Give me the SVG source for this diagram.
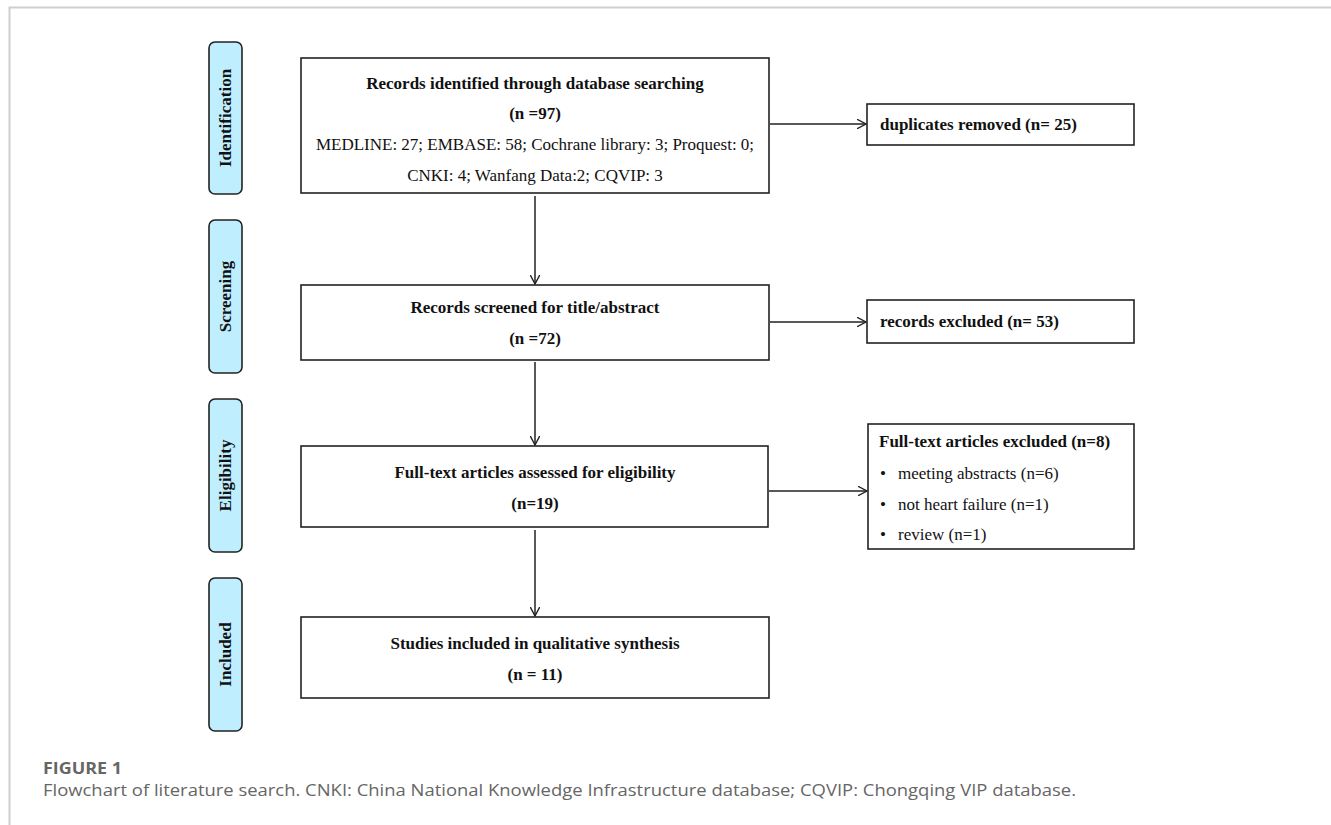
<svg xmlns="http://www.w3.org/2000/svg" width="1331" height="825" viewBox="0 0 1331 825">
<style>
.box{fill:#fff;stroke:#222;stroke-width:1.6}
.bar{fill:#bfeeff;stroke:#222;stroke-width:1.6}
.b{font-family:"Liberation Serif","Times New Roman",serif;font-weight:bold;font-size:17px;fill:#111}
.r{font-family:"Liberation Serif","Times New Roman",serif;font-size:17px;fill:#111}
.c{text-anchor:middle}
.con{stroke:#222;stroke-width:1.5;fill:none}
.cap{font-family:"Open Sans","Lato",sans-serif;fill:#666}
</style>
<defs>
<marker id="ah" viewBox="0 0 10 10" refX="9.5" refY="5" markerWidth="10" markerHeight="10" markerUnits="userSpaceOnUse" orient="auto">
<path d="M0,0 L9.5,5 L0,10" fill="none" stroke="#222" stroke-width="1.4"/>
</marker>
</defs>
<rect width="1331" height="825" fill="#fff"/>
<path d="M9.5,825 V7.5 H1331" fill="none" stroke="#cfcfcf" stroke-width="2"/>

<g id="phase-identification">
<rect class="bar" x="209" y="42" width="33" height="152" rx="6"/>
<text class="b c" transform="translate(231,118) rotate(-90)">Identification</text>
</g>
<g id="phase-screening">
<rect class="bar" x="209" y="220" width="33" height="153" rx="6"/>
<text class="b c" transform="translate(231,296.5) rotate(-90)">Screening</text>
</g>
<g id="phase-eligibility">
<rect class="bar" x="209" y="399" width="33" height="153" rx="6"/>
<text class="b c" transform="translate(231,475.5) rotate(-90)">Eligibility</text>
</g>
<g id="phase-included">
<rect class="bar" x="209" y="578" width="33" height="153" rx="6"/>
<text class="b c" transform="translate(231,654.5) rotate(-90)">Included</text>
</g>

<g id="box-identified">
<rect class="box" x="301" y="58" width="468" height="135"/>
<text class="b c" x="535" y="89">Records identified through database searching</text>
<text class="b c" x="535" y="119">(n =97)</text>
<text class="r c" x="535" y="150">MEDLINE: 27; EMBASE: 58; Cochrane library: 3; Proquest: 0;</text>
<text class="r c" x="535" y="181">CNKI: 4; Wanfang Data:2; CQVIP: 3</text>
</g>
<g id="box-duplicates">
<rect class="box" x="867" y="104" width="267" height="41"/>
<text class="b" x="880" y="129.5">duplicates removed (n= 25)</text>
</g>
<g id="box-screened">
<rect class="box" x="301" y="285" width="468" height="75"/>
<text class="b c" x="535" y="313">Records screened for title/abstract</text>
<text class="b c" x="535" y="344">(n =72)</text>
</g>
<g id="box-records-excluded">
<rect class="box" x="867" y="300" width="267" height="43"/>
<text class="b" x="880" y="327">records excluded (n= 53)</text>
</g>
<g id="box-fulltext">
<rect class="box" x="301" y="446" width="467" height="81"/>
<text class="b c" x="535" y="478">Full-text articles assessed for eligibility</text>
<text class="b c" x="535" y="509">(n=19)</text>
</g>
<g id="box-fulltext-excluded">
<rect class="box" x="868" y="424" width="266" height="125"/>
<text class="b" x="879" y="447">Full-text articles excluded (n=8)</text>
<text class="r" x="880" y="479">•</text>
<text class="r" x="898" y="479">meeting abstracts (n=6)</text>
<text class="r" x="880" y="510">•</text>
<text class="r" x="898" y="510">not heart failure (n=1)</text>
<text class="r" x="880" y="540">•</text>
<text class="r" x="898" y="540">review (n=1)</text>
</g>
<g id="box-included">
<rect class="box" x="301" y="617" width="468" height="81"/>
<text class="b c" x="535" y="649">Studies included in qualitative synthesis</text>
<text class="b c" x="535" y="680">(n = 11)</text>
</g>

<g id="connectors">
<line class="con" x1="535" y1="196" x2="535" y2="284" marker-end="url(#ah)"/>
<line class="con" x1="535" y1="362" x2="535" y2="445" marker-end="url(#ah)"/>
<line class="con" x1="535" y1="530" x2="535" y2="616" marker-end="url(#ah)"/>
<line class="con" x1="770" y1="124" x2="866" y2="124" marker-end="url(#ah)"/>
<line class="con" x1="770" y1="322" x2="866" y2="322" marker-end="url(#ah)"/>
<line class="con" x1="769" y1="491" x2="867" y2="491" marker-end="url(#ah)"/>
</g>

<g id="caption">
<text class="cap" x="43" y="773.5" font-size="16" font-weight="bold" textLength="79" lengthAdjust="spacingAndGlyphs">FIGURE 1</text>
<text class="cap" x="43" y="796" font-size="15.5" textLength="1033" lengthAdjust="spacingAndGlyphs">Flowchart of literature search. CNKI: China National Knowledge Infrastructure database; CQVIP: Chongqing VIP database.</text>
</g>
</svg>
